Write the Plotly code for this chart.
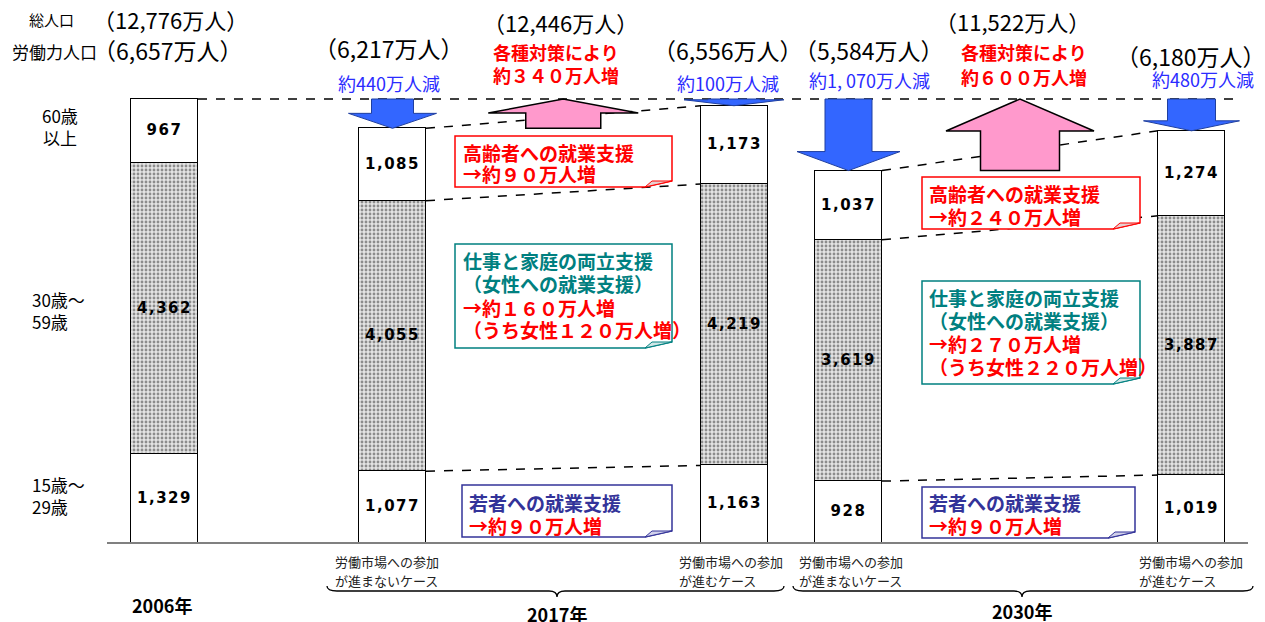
import plotly.graph_objects as go

# ---------------- data ----------------
CASES = ["2006年", "2017年・進まない", "2017年・進む", "2030年・進まない", "2030年・進む"]
AGE_15_29 = [1329, 1077, 1163, 928, 1019]
AGE_30_59 = [4362, 4055, 4219, 3619, 3887]
AGE_60_UP = [967, 1085, 1173, 1037, 1274]
LABOR_TOTAL = [6657, 6217, 6556, 5584, 6180]
POP_TOTAL = [12776, 12446, 11522]
DECREASE_LABELS = ["約440万人減", "約100万人減", "約1, 070万人減", "約480万人減"]
INCREASE_LABELS = ["約３４０万人増", "約６００万人増"]
YEAR_LABELS = ["2006年", "2017年", "2030年"]
AGE_LABELS = ["60歳<br>以上", "30歳～<br>59歳", "15歳～<br>29歳"]

# ---------------- layout helpers ----------------
PAGE_W, PAGE_H = 1265, 622
OFF = 8                       # page body margin
W, H = PAGE_W - OFF, PAGE_H - OFF
BASE_PX = 543
PX = 444 / 6657.0             # pixels per 万人
FONT = "Noto Sans CJK JP"
BAR_X = [164.5, 392.5, 734, 848.5, 1191.5]
BAR_W = 67


def yd(p):
    """page pixel row -> data value"""
    return (BASE_PX - p) / PX


def fmt(v):
    s = f"{v:,}"
    return "\u200a".join(s)


fig = go.Figure()

fig.add_trace(go.Bar(x=BAR_X, y=AGE_15_29, width=BAR_W,
                     marker=dict(color="white", line=dict(color="black", width=1.5)),
                     text=[fmt(v) for v in AGE_15_29]))
fig.add_trace(go.Bar(x=BAR_X, y=AGE_30_59, width=BAR_W,
                     marker=dict(color="#e4e4e4", line=dict(color="black", width=1.5),
                                 pattern=dict(shape=".", fgcolor="#333333", bgcolor="#e4e4e4",
                                              size=4, solidity=0.4)),
                     text=[fmt(v) for v in AGE_30_59]))
fig.add_trace(go.Bar(x=BAR_X, y=AGE_60_UP, width=BAR_W,
                     marker=dict(color="white", line=dict(color="black", width=1.5)),
                     text=[fmt(v) for v in AGE_60_UP]))
fig.update_traces(selector=dict(type="bar"), textposition="inside", insidetextanchor="middle",
                  textangle=0, constraintext="none",
                  texttemplate="<b>%{text}</b>",
                  textfont=dict(size=15, color="black", family="DejaVu Sans"),
                  hoverinfo="skip")

cum1 = AGE_15_29
cum2 = [a + b for a, b in zip(AGE_15_29, AGE_30_59)]
cum3 = [a + b + c for a, b, c in zip(AGE_15_29, AGE_30_59, AGE_60_UP)]

dash = dict(color="black", width=1.5, dash="dash")
fig.add_trace(go.Scatter(x=[BAR_X[0] + BAR_W / 2, 1235], y=[LABOR_TOTAL[0], LABOR_TOTAL[0]],
                         mode="lines", line=dash, hoverinfo="skip"))
for i, j in [(1, 2), (3, 4)]:
    for c in (cum1, cum2, cum3):
        fig.add_trace(go.Scatter(x=[BAR_X[i] + BAR_W / 2, BAR_X[j] - BAR_W / 2], y=[c[i], c[j]],
                                 mode="lines", line=dash, hoverinfo="skip"))

shapes = []
annos = []

shapes.append(dict(type="line", xref="x", yref="y", x0=107, x1=1248, y0=0, y1=0,
                   line=dict(color="#808080", width=2), layer="above"))


def arrow_path(xc, y_from, y_to, sw, hw, hh_px):
    d = 1 if y_to > y_from else -1
    yh = y_to - d * hh_px / PX
    pts = [(xc - sw / 2, y_from), (xc + sw / 2, y_from), (xc + sw / 2, yh), (xc + hw / 2, yh),
           (xc, y_to), (xc - hw / 2, yh), (xc - sw / 2, yh)]
    return "M " + " L ".join(f"{x:.2f},{y:.2f}" for x, y in pts) + " Z"


blue_style = [(42, 88, 15), (52, 100, 6), (47, 103, 19), (48, 96, 10)]
for k, idx in enumerate([1, 2, 3, 4]):
    sw, hw, hh = blue_style[k]
    shapes.append(dict(type="path", xref="x", yref="y",
                       path=arrow_path(BAR_X[idx], LABOR_TOTAL[0], LABOR_TOTAL[idx], sw, hw, hh),
                       fillcolor="#3366FF", line=dict(color="#1f3fa0", width=1), layer="above"))

pink_style = [(75, 150, 14), (79, 148, 32)]
for k, (i, j) in enumerate([(1, 2), (3, 4)]):
    sw, hw, hh = pink_style[k]
    xc = (BAR_X[i] + BAR_X[j]) / 2
    shapes.append(dict(type="path", xref="x", yref="y",
                       path=arrow_path(xc, LABOR_TOTAL[i], LABOR_TOTAL[0], sw, hw, hh),
                       fillcolor="#FF99CC", line=dict(color="black", width=1.5), layer="above"))


def callout(x0, x1, t, b, color, fold_fill):
    y0, y1 = yd(b), yd(t)
    fy = 6 / PX
    p = (f"M {x0},{y1} L {x1},{y1} L {x1},{y0 + fy} L {x1 - 27},{y0} L {x0},{y0} Z")
    shapes.append(dict(type="path", xref="x", yref="y", path=p, fillcolor="white",
                       line=dict(color=color, width=1.5), layer="above"))
    f = f"M {x1 - 27},{y0} L {x1 - 20},{y0 + fy} L {x1},{y0 + fy} Z"
    shapes.append(dict(type="path", xref="x", yref="y", path=f, fillcolor=fold_fill,
                       line=dict(color=color, width=1), layer="above"))


RED, TEAL, NAVY, BLUE = "#FF0000", "#008080", "#333399", "#2B2BFF"
callout(455, 672, 136, 187, RED, "#e6d0d0")
callout(455, 672, 244, 348, TEAL, "#cfe6e6")
callout(462, 672, 485, 537, NAVY, "#d0d0ea")
callout(922, 1140, 177, 229, RED, "#e6d0d0")
callout(922, 1140, 281, 384, TEAL, "#cfe6e6")
callout(922, 1135, 487, 538, NAVY, "#d0d0ea")


def txt(x, p, s, size, color="black", bold=False, anchor="center", family=FONT):
    annos.append(dict(x=x, y=yd(p), xref="x", yref="y", text=(f"<b>{s}</b>" if bold else s),
                      showarrow=False, xanchor=anchor, yanchor="middle",
                      align=anchor if anchor != "center" else "center",
                      font=dict(size=size, color=color, family=family)))


BS = 19
txt(461, 152, "高齢者への就業支援", BS, RED, True, "left")
txt(461, 173, "→約９０万人増", BS, RED, True, "left")
txt(461, 260, "仕事と家庭の両立支援", BS, TEAL, True, "left")
txt(461, 283, "（女性への就業支援）", BS, TEAL, True, "left")
txt(461, 307, "→約１６０万人増", BS, RED, True, "left")
txt(461, 329, "（うち女性１２０万人増）", BS, RED, True, "left")
txt(467, 502, "若者への就業支援", BS, NAVY, True, "left")
txt(467, 525, "→約９０万人増", BS, RED, True, "left")
txt(927, 193, "高齢者への就業支援", BS, RED, True, "left")
txt(927, 216, "→約２４０万人増", BS, RED, True, "left")
txt(927, 297, "仕事と家庭の両立支援", BS, TEAL, True, "left")
txt(927, 320, "（女性への就業支援）", BS, TEAL, True, "left")
txt(927, 343, "→約２７０万人増", BS, RED, True, "left")
txt(927, 366, "（うち女性２２０万人増）", BS, RED, True, "left")
txt(927, 502, "若者への就業支援", BS, NAVY, True, "left")
txt(927, 525, "→約９０万人増", BS, RED, True, "left")

txt(51, 19, "総人口", 15)
txt(170, 19, f"（{POP_TOTAL[0]:,}万人）", 22)
txt(54, 51, "労働力人口", 17)
txt(167, 50, f"（{LABOR_TOTAL[0]:,}万人）", 23)

lab_pos = [(388, 48), (727, 50), (868, 50), (1190, 56)]
for k, idx in enumerate([1, 2, 3, 4]):
    x, p = lab_pos[k]
    txt(x, p, f"（{LABOR_TOTAL[idx]:,}万人）", 23)
dec_pos = [(389, 83), (728, 83), (869, 80), (1203, 79)]
for k in range(4):
    x, p = dec_pos[k]
    txt(x, p, DECREASE_LABELS[k], 18, BLUE)

pop_pos = [(560, 22), (1012, 21)]
for k in range(2):
    x, p = pop_pos[k]
    txt(x, p, f"（{POP_TOTAL[k + 1]:,}万人）", 22)
inc_pos = [(556, 52, 75), (1024, 52, 77)]
for k in range(2):
    x, p1, p2 = inc_pos[k]
    txt(x, p1, "各種対策により", 18, RED, True)
    txt(x, p2, INCREASE_LABELS[k], 18, RED, True)

txt(60, 126, AGE_LABELS[0], 17)
txt(30, 310, AGE_LABELS[1], 17, anchor="left")
txt(30, 495, AGE_LABELS[2], 17, anchor="left")

note_pos = [(333, "が進まないケース"), (677, "が進むケース"), (797, "が進まないケース"), (1137, "が進むケース")]
for x, l2 in note_pos:
    txt(x, 561, "労働市場への参加", 13, "#222222", anchor="left")
    txt(x, 580, l2, 13, "#222222", anchor="left")

txt(162, 605, YEAR_LABELS[0], 18, bold=True)
txt(557, 614, YEAR_LABELS[1], 18, bold=True)
txt(1022, 611, YEAR_LABELS[2], 18, bold=True)


def brace(xl, xr, xc):
    ye, ym, yt = yd(586), yd(591), yd(597)
    p = (f"M {xl},{ye} Q {xl},{ym} {xl + 10},{ym} L {xc - 8},{ym} Q {xc},{ym} {xc},{yt} "
         f"Q {xc},{ym} {xc + 8},{ym} L {xr - 10},{ym} Q {xr},{ym} {xr},{ye}")
    shapes.append(dict(type="path", xref="x", yref="y", path=p,
                       line=dict(color="black", width=1.3), layer="above"))


brace(327, 784, 557)
brace(793, 1253, 1022)

fig.update_layout(
    width=W, height=H, barmode="stack", bargap=0, showlegend=False,
    margin=dict(l=0, r=0, t=0, b=0), paper_bgcolor="white", plot_bgcolor="white",
    xaxis=dict(range=[OFF, PAGE_W], visible=False, fixedrange=True),
    yaxis=dict(range=[yd(PAGE_H), yd(OFF)], visible=False, fixedrange=True),
    shapes=shapes, annotations=annos, hovermode=False,
    font=dict(family=FONT),
)

fig.write_html("out.html")
